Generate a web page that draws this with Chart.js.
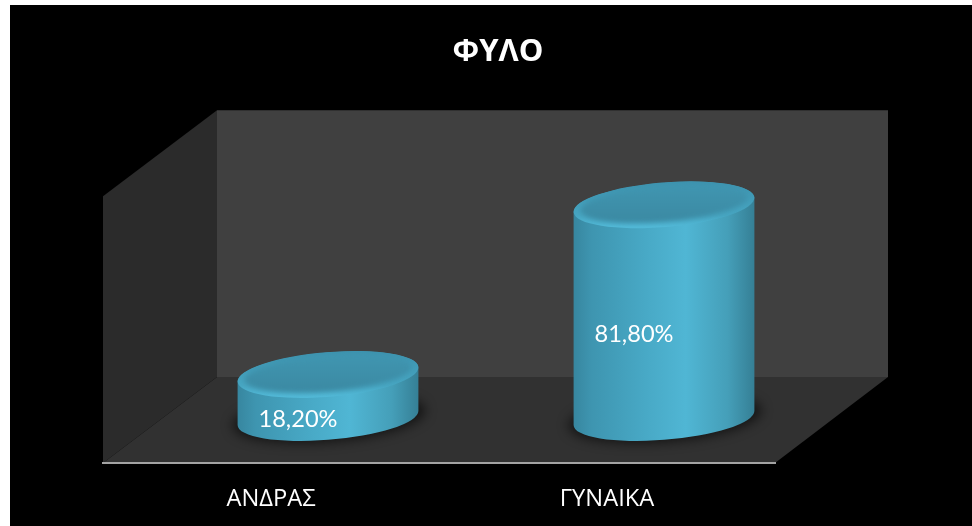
<!DOCTYPE html>
<html><head><meta charset="utf-8">
<style>
html,body{margin:0;padding:0;background:#fff;width:972px;height:526px;overflow:hidden}
#wrap{position:absolute;left:10px;top:5px;width:976px;height:521px;background:#000}
</style>
<script src="https://cdn.jsdelivr.net/npm/chart.js@4/dist/chart.umd.min.js"></script>
</head><body><div id="wrap"><canvas id="c" width="976" height="521"></canvas></div>
<script>
const categories = ['ΑΝΔΡΑΣ', 'ΓΥΝΑΙΚΑ'];
const values = [18.2, 81.8];
const titleText = 'ΦΥΛΟ';

const depthX = 114, depthY = 86;
const formatValue = v => v.toFixed(2).replace('.', ',') + '%';

const room = {
  id: 'room',
  beforeDraw(chart) {
    const {ctx, chartArea: {left: l, right: r, top: t, bottom: b}} = chart;
    const poly = (pts, col) => {
      ctx.beginPath();
      pts.forEach((p, i) => i ? ctx.lineTo(p[0], p[1]) : ctx.moveTo(p[0], p[1]));
      ctx.closePath(); ctx.fillStyle = col; ctx.fill();
    };
    poly([[l + depthX, t - depthY], [r + depthX - 1, t - depthY], [r + depthX - 1, b - depthY], [l + depthX, b - depthY]], '#404040');
    poly([[l, t], [l + depthX, t - depthY], [l + depthX, b - depthY], [l, b]], '#2b2b2b');
    poly([[l, b], [l + depthX, b - depthY], [r + depthX - 1, b - depthY], [r, b]], '#313131');
  }
};

const cylinders = {
  id: 'cylinders',
  afterDatasetsDraw(chart) {
    const {ctx} = chart;
    const meta = chart.getDatasetMeta(0);
    const rot = -4.7 * Math.PI / 180, ry = 21.8, t0 = 0.02;
    meta.data.forEach((bar, i) => {
      const a = bar.width / 2 + 0.3;
      const cx = bar.x + 57, topY = bar.y - 40, baseY = bar.base - 45;
      // floor shadow
      ctx.save();
      ctx.filter = 'blur(6px)';
      ctx.fillStyle = 'rgba(0,0,0,0.6)';
      ctx.beginPath(); ctx.ellipse(cx + 1, baseY, a + 6, ry + 2, rot, 0, 7); ctx.fill();
      ctx.restore();
      // body
      const g = ctx.createLinearGradient(cx - a, 0, cx + a, 0);
      g.addColorStop(0, '#37869f');
      g.addColorStop(0.1, '#3e95b0');
      g.addColorStop(0.4, '#48a9c6');
      g.addColorStop(0.62, '#50b6d4');
      g.addColorStop(0.85, '#459fb9');
      g.addColorStop(1, '#357f95');
      ctx.beginPath();
      ctx.ellipse(cx, baseY, a, ry, rot, t0, t0 + Math.PI);
      ctx.ellipse(cx, topY, a, ry, rot, t0 + Math.PI, t0);
      ctx.closePath();
      ctx.fillStyle = g; ctx.fill();
      // top face
      const tg = ctx.createLinearGradient(0, topY - ry, 0, topY + ry);
      tg.addColorStop(0, '#3d93af');
      tg.addColorStop(0.75, '#47a6c2');
      tg.addColorStop(1, '#52b9d7');
      ctx.save();
      ctx.beginPath(); ctx.ellipse(cx, topY, a, ry + 0.5, rot, 0, 7); ctx.fillStyle = tg; ctx.fill();
      ctx.clip();
      ctx.filter = 'blur(2.5px)';
      const ig = ctx.createLinearGradient(0, topY - ry, 0, topY + ry);
      ig.addColorStop(0, '#4096b1');
      ig.addColorStop(1, '#3b88a1');
      ctx.beginPath(); ctx.ellipse(cx, topY - 1, a - 7, ry - 4, rot, 0, 7); ctx.fillStyle = ig; ctx.fill();
      ctx.restore();
      // value label
      ctx.save();
      ctx.font = '23.6px "Lato","Open Sans",sans-serif';
      ctx.fillStyle = '#ffffff';
      ctx.textAlign = 'center'; ctx.textBaseline = 'middle';
      ctx.fillText(formatValue(values[i]), bar.x + 27, (bar.y + bar.base) / 2 - 19);
      ctx.restore();
    });
  }
};

new Chart(document.getElementById('c'), {
  type: 'bar',
  data: {
    labels: categories,
    datasets: [{
      data: values,
      backgroundColor: 'rgba(0,0,0,0)',
      borderWidth: 0,
      categoryPercentage: 1,
      barPercentage: 0.538
    }]
  },
  plugins: [room, cylinders],
  options: {
    responsive: false,
    animation: false,
    layout: {padding: 0},
    plugins: {
      legend: {display: false},
      tooltip: {enabled: false},
      title: {
        display: true, text: titleText, color: '#ffffff',
        font: {family: '"Open Sans","Noto Sans",sans-serif', size: 31, weight: 'bold', lineHeight: 1.2},
        padding: {top: 29, bottom: 125}
      }
    },
    scales: {
      x: {
        grid: {display: false},
        border: {display: true, color: '#a3a3a3', width: 2},
        ticks: {color: '#ffffff', padding: 14, font: {family: '"Open Sans","Noto Sans",sans-serif', size: 23.7}},
        afterFit(s) { s.height = 63; }
      },
      y: {
        min: 0, max: 100, position: 'left',
        grid: {display: false}, border: {display: false}, ticks: {display: false},
        afterFit(s) { s.width = 93; }
      },
      rightGap: {
        min: 0, max: 100, position: 'right',
        grid: {display: false}, border: {display: false}, ticks: {display: false},
        afterFit(s) { s.width = 211; }
      }
    }
  }
});
</script></body></html>
